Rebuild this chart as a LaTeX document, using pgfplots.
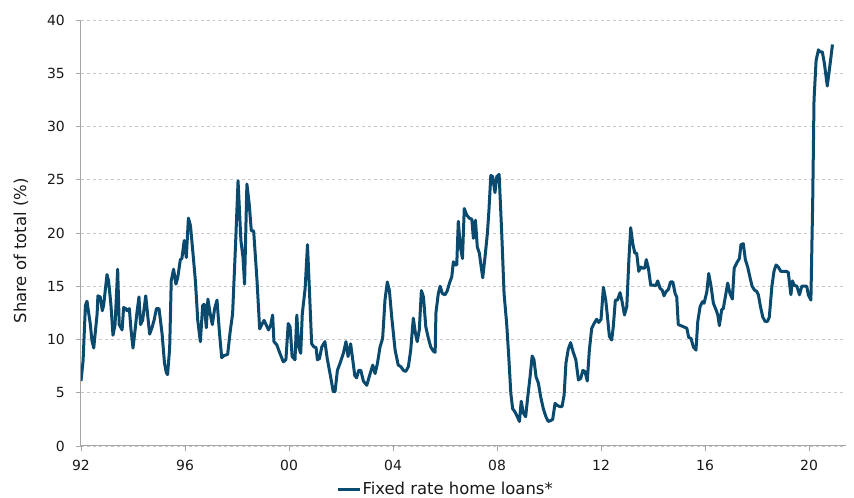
\documentclass[border=0pt]{standalone}
\usepackage{pgfplots}
\pgfplotsset{compat=1.18}
\usepackage{pgfplotstable}
\usepackage{fontspec}
\setmainfont{DejaVu Sans}
\definecolor{lineblue}{HTML}{0B4A6F}
\definecolor{axgray}{HTML}{A6A6A6}
\definecolor{gridgray}{HTML}{C8C8C8}
\pgfplotstableread{
x y
1992.00 6.1
1992.08 8.0
1992.17 13.2
1992.23 13.6
1992.36 11.4
1992.42 9.9
1992.49 9.2
1992.62 12.4
1992.65 14.1
1992.74 14.0
1992.82 12.7
1992.87 13.2
1993.00 16.1
1993.06 15.5
1993.15 13.3
1993.23 10.4
1993.31 11.4
1993.41 16.6
1993.47 11.4
1993.58 10.9
1993.64 13.0
1993.72 12.9
1993.77 12.7
1993.86 12.9
1993.92 11.0
1994.00 9.2
1994.09 11.1
1994.15 12.5
1994.23 14.0
1994.29 11.4
1994.37 11.8
1994.49 14.1
1994.56 12.4
1994.64 10.5
1994.73 11.1
1994.82 11.9
1994.90 12.9
1995.00 12.9
1995.12 10.5
1995.21 7.8
1995.28 6.9
1995.33 6.7
1995.41 9.2
1995.47 15.5
1995.56 16.6
1995.65 15.2
1995.72 15.8
1995.82 17.5
1995.88 17.6
1995.97 19.3
1996.05 17.7
1996.13 21.4
1996.21 20.7
1996.31 18.0
1996.40 15.5
1996.49 11.8
1996.59 9.8
1996.68 13.2
1996.74 13.3
1996.82 11.1
1996.88 13.8
1996.97 12.4
1997.05 11.4
1997.14 12.9
1997.23 13.7
1997.32 10.8
1997.41 8.3
1997.51 8.5
1997.64 8.6
1997.74 10.8
1997.83 12.4
1997.94 18.7
1998.04 24.9
1998.15 19.3
1998.23 17.7
1998.29 15.2
1998.38 24.6
1998.47 22.7
1998.55 20.2
1998.64 20.2
1998.77 15.5
1998.87 11.0
1999.04 11.8
1999.21 10.9
1999.29 11.3
1999.37 12.3
1999.42 9.8
1999.53 9.5
1999.65 8.7
1999.78 7.9
1999.88 8.1
1999.97 11.5
2000.04 11.2
2000.12 8.4
2000.23 8.1
2000.30 12.3
2000.37 9.3
2000.45 8.7
2000.51 12.4
2000.62 14.8
2000.71 18.9
2000.78 14.9
2000.87 9.6
2000.96 9.3
2001.04 9.25
2001.09 8.1
2001.17 8.2
2001.26 9.3
2001.38 9.8
2001.47 8.2
2001.60 6.5
2001.70 5.1
2001.77 5.1
2001.86 7.1
2001.96 7.75
2002.09 8.7
2002.19 9.8
2002.27 8.4
2002.37 9.6
2002.45 8.1
2002.53 6.6
2002.60 6.4
2002.68 7.1
2002.76 7.1
2002.86 6.1
2002.99 5.7
2003.12 6.8
2003.22 7.6
2003.31 6.8
2003.40 7.75
2003.50 9.3
2003.60 10.1
2003.69 13.7
2003.78 15.4
2003.86 14.6
2003.95 12.1
2004.08 9.0
2004.20 7.6
2004.30 7.45
2004.40 7.1
2004.49 7.0
2004.59 7.45
2004.68 9.0
2004.78 12.0
2004.86 10.6
2004.93 9.8
2005.01 10.9
2005.09 14.6
2005.17 14.0
2005.26 11.2
2005.36 10.1
2005.45 9.3
2005.55 8.9
2005.62 8.8
2005.65 12.5
2005.74 14.3
2005.81 15.0
2005.90 14.3
2006.00 14.2
2006.09 14.6
2006.17 15.3
2006.26 15.9
2006.32 17.3
2006.38 17.0
2006.45 17.0
2006.51 21.1
2006.59 18.7
2006.67 17.6
2006.74 22.3
2006.83 21.7
2006.93 21.4
2007.03 21.3
2007.09 19.5
2007.17 21.2
2007.24 18.7
2007.32 18.1
2007.38 17.0
2007.45 15.8
2007.54 17.8
2007.63 20.0
2007.69 22.2
2007.76 25.4
2007.83 25.3
2007.92 23.8
2007.99 25.3
2008.08 25.5
2008.18 20.0
2008.27 14.3
2008.37 11.5
2008.45 8.4
2008.53 4.95
2008.60 3.5
2008.69 3.2
2008.78 2.75
2008.86 2.3
2008.93 4.2
2009.01 3.1
2009.10 2.75
2009.18 4.6
2009.27 6.5
2009.35 8.45
2009.42 8.1
2009.50 6.5
2009.59 5.9
2009.68 4.6
2009.78 3.5
2009.88 2.75
2009.97 2.3
2010.07 2.4
2010.14 2.5
2010.23 4.0
2010.32 3.8
2010.42 3.7
2010.50 3.7
2010.58 4.8
2010.65 7.8
2010.74 9.1
2010.83 9.7
2010.93 8.8
2011.03 8.1
2011.13 6.2
2011.22 6.35
2011.30 7.1
2011.38 7.0
2011.47 6.1
2011.55 9.0
2011.64 11.05
2011.73 11.5
2011.83 11.9
2011.91 11.6
2012.00 11.9
2012.09 14.9
2012.18 13.7
2012.24 12.3
2012.32 10.3
2012.41 9.95
2012.47 11.2
2012.55 13.7
2012.63 13.7
2012.73 14.4
2012.81 13.55
2012.90 12.3
2012.99 13.1
2013.07 17.5
2013.14 20.5
2013.22 19.0
2013.30 18.1
2013.37 18.1
2013.45 16.4
2013.53 16.8
2013.60 16.7
2013.68 16.7
2013.74 17.5
2013.82 16.7
2013.91 15.1
2014.01 15.1
2014.10 15.05
2014.18 15.5
2014.27 14.8
2014.35 14.65
2014.42 14.1
2014.50 14.5
2014.59 14.7
2014.67 15.4
2014.76 15.4
2014.85 14.3
2014.91 14.0
2014.97 11.4
2015.07 11.3
2015.17 11.2
2015.30 11.05
2015.37 10.2
2015.46 10.1
2015.55 9.3
2015.65 9.0
2015.72 11.7
2015.81 13.1
2015.90 13.55
2015.96 13.4
2016.07 14.5
2016.14 16.2
2016.23 15.0
2016.32 13.4
2016.42 12.8
2016.49 12.3
2016.55 11.3
2016.64 12.8
2016.70 12.9
2016.80 14.3
2016.87 15.3
2016.96 14.3
2017.05 13.8
2017.12 16.7
2017.22 17.2
2017.32 17.6
2017.38 18.9
2017.47 19.0
2017.55 17.5
2017.64 16.8
2017.73 15.8
2017.81 15.0
2017.90 14.65
2017.99 14.5
2018.05 14.2
2018.13 13.1
2018.22 12.1
2018.31 11.7
2018.40 11.7
2018.47 12.1
2018.57 15.0
2018.65 16.4
2018.73 17.0
2018.82 16.8
2018.91 16.4
2019.01 16.4
2019.12 16.4
2019.20 16.3
2019.30 14.2
2019.36 15.5
2019.43 15.1
2019.53 15.0
2019.63 14.2
2019.72 15.0
2019.81 15.0
2019.91 15.0
2019.97 14.2
2020.07 13.7
2020.14 23.1
2020.19 32.5
2020.27 36.2
2020.36 37.2
2020.42 37.0
2020.51 37.0
2020.59 35.9
2020.70 33.8
2020.81 35.9
2020.90 37.7
}\fixedrate
\begin{document}
\begin{tikzpicture}
\path[use as bounding box] (-81bp,-52bp) rectangle (773bp,446bp);
\begin{axis}[
  at={(0,0)}, anchor=south west,
  scale only axis, width=765bp, height=426bp,
  xmin=1992, xmax=2021.42, ymin=0, ymax=40,
  xtick={1992,1996,...,2020},
  xticklabels={92,96,00,04,08,12,16,20},
  ytick={0,5,...,40},
  axis x line*=bottom, axis y line*=left,
  x axis line style={-, axgray, line width=1bp},
  y axis line style={-, axgray, line width=1bp},
  tick style={axgray, line width=0.8bp},
  tick align=outside, major tick length=5bp,
  ymajorgrids, grid style={gridgray, dashed, line width=0.8bp},
  /pgf/number format/assume math mode=true,
  ticklabel style={font=\fontsize{14}{16}\selectfont, text=black!90},
  yticklabel style={inner sep=0pt, xshift=-11bp},
  xticklabel style={inner sep=0pt, yshift=-9bp},
  ylabel={Share of total (\%)},
  ylabel style={font=\fontsize{16.5}{18}\selectfont, text=black!90, at={(axis description cs:-0.0784,0.458)}, anchor=center, rotate=0},
  legend style={draw=none, at={(axis description cs:0.476,-0.101)}, anchor=center,
    font=\fontsize{16.5}{18}\selectfont, text=black!90, inner sep=0pt,
    nodes={inner sep=1bp}},
  legend image code/.code={\draw[#1, line width=3bp] (0,0) -- (22bp,0);},
]
\addplot[lineblue, line width=3bp, line join=round, no markers] table[x=x,y=y]{\fixedrate};
\addlegendentry{Fixed rate home loans*}
\end{axis}
\end{tikzpicture}
\end{document}
